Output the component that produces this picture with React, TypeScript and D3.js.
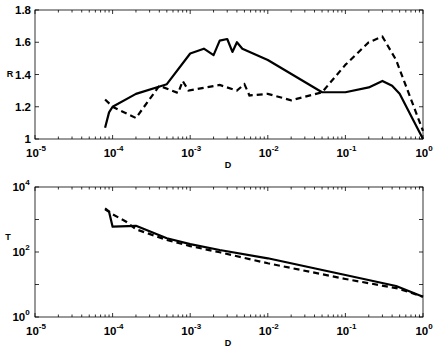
import * as d3 from "d3";

// top panel: R vs D
const rSolidD = [8e-5, 9e-5, 1e-4, 2e-4, 5e-4, 1e-3, 1.5e-3, 2e-3, 2.4e-3, 3e-3, 3.5e-3, 4e-3, 4.7e-3, 1e-2, 5e-2, 0.1, 0.2, 0.3, 0.4, 0.5, 1];
const rSolid = [1.07, 1.165, 1.2, 1.28, 1.34, 1.53, 1.56, 1.52, 1.61, 1.62, 1.54, 1.6, 1.56, 1.49, 1.29, 1.29, 1.32, 1.36, 1.33, 1.28, 1.0];
const rDashD = [8e-5, 1e-4, 2e-4, 4e-4, 7e-4, 8e-4, 9.5e-4, 2.4e-3, 4e-3, 5e-3, 5.8e-3, 1e-2, 2e-2, 5e-2, 0.1, 0.2, 0.3, 0.45, 1];
const rDash = [1.245, 1.2, 1.13, 1.33, 1.285, 1.36, 1.3, 1.335, 1.3, 1.34, 1.27, 1.28, 1.24, 1.29, 1.46, 1.6, 1.635, 1.49, 1.05];

// bottom panel: T vs D
const tSolidD = [8e-5, 9e-5, 1e-4, 2e-4, 5e-4, 1e-3, 2.4e-3, 1e-2, 0.1, 0.45, 1];
const tSolid = [2050, 1740, 600, 640, 265, 175, 115, 64, 19.6, 9, 4.2];
const tDashD = [8e-5, 1e-4, 1.5e-4, 2e-4, 5e-4, 1e-3, 2.4e-3, 1e-2, 0.1, 0.47, 1];
const tDash = [2200, 1450, 850, 500, 235, 152, 98, 45, 14.8, 7.6, 4.2];

const xDecades = [-5, -4, -3, -2, -1, 0];
const rTicks = [1, 1.2, 1.4, 1.6, 1.8];
const tDecades = [0, 1, 2, 3, 4];
const tLabelled = [0, 2, 4];

const left = 35, right = 423;
const font = "'Liberation Sans', Arial, sans-serif";

const x = d3.scaleLog().domain([1e-5, 1]).range([left, right]);
const yR = d3.scaleLinear().domain([1, 1.8]).range([139, 10]);
const yT = d3.scaleLog().domain([1, 1e4]).range([317, 187]);

const minorX: number[] = [];
xDecades.slice(0, -1).forEach(e => {
    for (let k = 2; k <= 9; k++) minorX.push(k * Math.pow(10, e));
});

const Pow = ({ px, py, e }: { px: number, py: number, e: number }) => (
    <text x={px} y={py} textAnchor="middle" fontFamily={font} fontWeight="bold" fontSize={11.5}>
        10<tspan dy={-6} fontSize={8}>{e}</tspan>
    </text>
);

const Frame = ({ top, bottom }: { top: number, bottom: number }) => (
    <g stroke="#000" strokeWidth={0.8} fill="none">
        <rect x={left} y={top} width={right - left} height={bottom - top} />
        {xDecades.map(e => {
            const px = x(Math.pow(10, e));
            return <g key={e}>
                <line x1={px} x2={px} y1={bottom} y2={bottom - 4} />
                <line x1={px} x2={px} y1={top} y2={top + 4} />
            </g>;
        })}
        {minorX.map((v, i) => {
            const px = x(v);
            return <g key={i}>
                <line x1={px} x2={px} y1={bottom} y2={bottom - 2.5} />
                <line x1={px} x2={px} y1={top} y2={top + 2.5} />
            </g>;
        })}
    </g>
);

const lineGen = (ys: d3.ScaleLinear<number, number> | d3.ScaleLogarithmic<number, number>) =>
    d3.line<[number, number]>().x(d => x(d[0])).y(d => ys(d[1]));

export default function App() {
    const rLine = lineGen(yR);
    const tLine = lineGen(yT);
    const zip = (a: number[], b: number[]) => a.map((v, i) => [v, b[i]] as [number, number]);

    return (
        <div style={{ position: "fixed", left: 0, top: 0 }}>
            <svg width={436} height={350} style={{ display: "block", background: "#fff" }}>
                {/* top panel */}
                <Frame top={10} bottom={139} />
                <g stroke="#000" strokeWidth={0.8}>
                    {rTicks.map(t => <g key={t}>
                        <line x1={left} x2={left + 4} y1={yR(t)} y2={yR(t)} />
                        <line x1={right} x2={right - 4} y1={yR(t)} y2={yR(t)} />
                    </g>)}
                </g>
                {rTicks.map(t => (
                    <text key={t} x={31} y={yR(t) + 4} textAnchor="end" fontFamily={font} fontWeight="bold" fontSize={11.5}>
                        {t === 1 ? "1" : t.toFixed(1)}
                    </text>
                ))}
                {xDecades.map(e => <Pow key={e} px={x(Math.pow(10, e)) + 1} py={157} e={e} />)}
                <path d={rLine(zip(rSolidD, rSolid)) ?? ""} fill="none" stroke="#000" strokeWidth={2.2} strokeLinejoin="round" />
                <path d={rLine(zip(rDashD, rDash)) ?? ""} fill="none" stroke="#000" strokeWidth={2.2} strokeDasharray="6,4" />
                <text x={228} y={168} textAnchor="middle" fontFamily={font} fontWeight="bold" fontSize={9}>D</text>
                <text x={10} y={77} textAnchor="middle" fontFamily={font} fontWeight="bold" fontSize={9}>R</text>

                {/* bottom panel */}
                <Frame top={187} bottom={317} />
                <g stroke="#000" strokeWidth={0.8}>
                    {tDecades.map(e => <g key={e}>
                        <line x1={left} x2={left + 4} y1={yT(Math.pow(10, e))} y2={yT(Math.pow(10, e))} />
                        <line x1={right} x2={right - 4} y1={yT(Math.pow(10, e))} y2={yT(Math.pow(10, e))} />
                    </g>)}
                </g>
                {tLabelled.map(e => <Pow key={e} px={21} py={yT(Math.pow(10, e)) + 4} e={e} />)}
                {xDecades.map(e => <Pow key={e} px={x(Math.pow(10, e)) + 1} py={335} e={e} />)}
                <path d={tLine(zip(tSolidD, tSolid)) ?? ""} fill="none" stroke="#000" strokeWidth={2.2} strokeLinejoin="round" />
                <path d={tLine(zip(tDashD, tDash)) ?? ""} fill="none" stroke="#000" strokeWidth={2.2} strokeDasharray="6,4" />
                <text x={228} y={346} textAnchor="middle" fontFamily={font} fontWeight="bold" fontSize={9}>D</text>
                <text x={8} y={240} textAnchor="middle" fontFamily={font} fontWeight="bold" fontSize={9}>T</text>
            </svg>
        </div>
    );
}
